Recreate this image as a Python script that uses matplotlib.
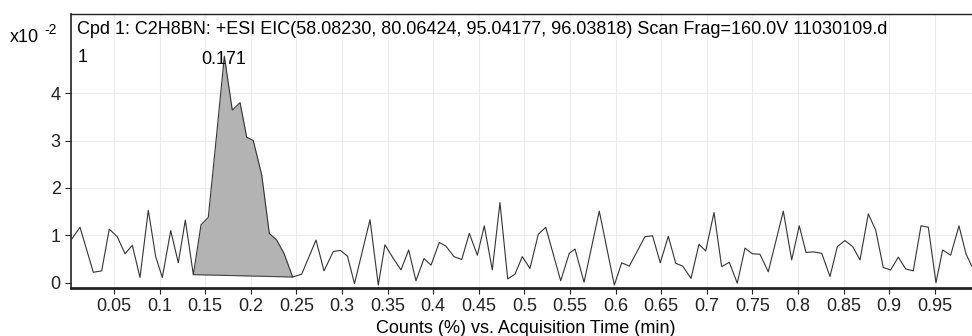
import numpy as np  # Import Library
import matplotlib
matplotlib.use("Agg")
import matplotlib.pyplot as plt  # Import Library

# EIC trace (time in min, counts in units of x10^-2 %)
times = [0.0036, 0.0127, 0.0273, 0.0365, 0.0448, 0.0536, 0.0621, 0.0701, 0.0785, 0.0876,
         0.0957, 0.1030, 0.1122, 0.1205, 0.1282, 0.1370, 0.1454, 0.1534, 0.1623, 0.1710,
         0.1797, 0.1882, 0.1955, 0.2027, 0.2120, 0.2203, 0.2284, 0.2364, 0.2459, 0.2558,
         0.2715, 0.2803, 0.2905, 0.2984, 0.3060, 0.3137, 0.3307, 0.3398, 0.3471, 0.3563,
         0.3647, 0.3731, 0.3811, 0.3899, 0.3976, 0.4067, 0.4140, 0.4228, 0.4313, 0.4396,
         0.4484, 0.4560, 0.4648, 0.4732, 0.4817, 0.4897, 0.4977, 0.5061, 0.5152, 0.5234,
         0.5398, 0.5492, 0.5555, 0.5654, 0.5821, 0.5986, 0.6067, 0.6150, 0.6322, 0.6405,
         0.6490, 0.6578, 0.6659, 0.6736, 0.6827, 0.6914, 0.6988, 0.7079, 0.7163, 0.7247,
         0.7334, 0.7419, 0.7499, 0.7583, 0.7674, 0.7839, 0.7931, 0.8014, 0.8088, 0.8168,
         0.8260, 0.8351, 0.8431, 0.8515, 0.8600, 0.8680, 0.8771, 0.8852, 0.8935, 0.9016,
         0.9100, 0.9181, 0.9264, 0.9349, 0.9429, 0.9513, 0.9586, 0.9674, 0.9765, 0.9842,
         0.9905]
counts = [0.92, 1.17, 0.22, 0.25, 1.13, 0.97, 0.61, 0.79, 0.11, 1.53,
          0.55, 0.11, 1.10, 0.42, 1.32, 0.17, 1.22, 1.38, 3.08, 4.78,
          3.64, 3.80, 3.07, 3.00, 2.27, 1.04, 0.90, 0.62, 0.12, 0.18,
          0.90, 0.25, 0.66, 0.68, 0.56, -0.02, 1.33, -0.05, 0.80, 0.51,
          0.27, 0.69, 0.04, 0.51, 0.37, 0.85, 0.77, 0.55, 0.49, 1.04,
          0.58, 1.20, 0.27, 1.69, 0.08, 0.18, 0.55, 0.30, 1.02, 1.17,
          0.04, 0.62, 0.71, 0.01, 1.51, -0.05, 0.42, 0.35, 0.97, 0.99,
          0.42, 0.98, 0.41, 0.35, 0.09, 0.81, 0.67, 1.48, 0.34, 0.43,
          -0.01, 0.73, 0.61, 0.60, 0.23, 1.51, 0.48, 1.20, 0.64, 0.65,
          0.62, 0.13, 0.76, 0.89, 0.76, 0.48, 1.45, 1.11, 0.32, 0.27,
          0.54, 0.29, 0.25, 1.20, 1.17, 0.00, 0.69, 0.58, 1.20, 0.61,
          0.35]

# integrated peak: start / end index of the shaded area
peak_start = 15
peak_end = 28
peak_time = 0.171

xticks = [0.05, 0.1, 0.15, 0.2, 0.25, 0.3, 0.35, 0.4, 0.45, 0.5,
          0.55, 0.6, 0.65, 0.7, 0.75, 0.8, 0.85, 0.9, 0.95]
xtick_labels = ['0.05', '0.1', '0.15', '0.2', '0.25', '0.3', '0.35', '0.4', '0.45', '0.5',
                '0.55', '0.6', '0.65', '0.7', '0.75', '0.8', '0.85', '0.9', '0.95']
yticks = [0, 1, 2, 3, 4]

title = "Cpd 1: C2H8BN: +ESI EIC(58.08230, 80.06424, 95.04177, 96.03818) Scan Frag=160.0V 11030109.d"
xlabel = "Counts (%) vs. Acquisition Time (min)"

plt.rcParams['font.family'] = ['Liberation Sans', 'DejaVu Sans']
fs = 13

t = np.array(times)
c = np.array(counts)

fig = plt.figure(figsize=(9.72, 3.36), dpi=100)
ax = fig.add_axes([70.5 / 972, 1 - 288 / 336, 901.5 / 972, 274 / 336])

# faint grid
for x in xticks:
    ax.axvline(x, color='#ededed', lw=0.8, zorder=0)
for y in yticks[1:]:
    ax.axhline(y, color='#ededed', lw=0.8, zorder=0)

# shaded peak, baseline drawn from start point to end point
ts = t[peak_start:peak_end + 1]
cs = c[peak_start:peak_end + 1]
base = np.interp(ts, [ts[0], ts[-1]], [cs[0], cs[-1]])
ax.fill_between(ts, base, cs, color='#b3b3b3', lw=0, zorder=1)
ax.plot([ts[0], ts[-1]], [cs[0], cs[-1]], color='#444444', lw=0.8, zorder=2)

ax.plot(t, c, color='#333333', lw=0.8, zorder=3)

ax.set_xlim(0.0023, 0.9908)
ax.set_ylim(-0.112, 5.67)
ax.set_xticks(xticks)
ax.set_xticklabels(xtick_labels, fontsize=fs)
ax.set_yticks(yticks)
ax.set_yticklabels([str(v) for v in yticks], fontsize=fs)
ax.tick_params(axis='both', direction='out', length=4, width=0.8, pad=3, colors='#222222')

ax.spines['right'].set_visible(False)
ax.spines['bottom'].set_linewidth(2.0)
ax.spines['left'].set_linewidth(1.2)
ax.spines['top'].set_linewidth(1.0)
for s in ['bottom', 'left', 'top']:
    ax.spines[s].set_color('#222222')

ax.set_xlabel(xlabel, fontsize=fs, labelpad=0)
ax.xaxis.set_label_coords(0.505, -0.115)

# texts inside the plot
ax.text(77 / 972, 1 - 30 / 336, title, transform=fig.transFigure, fontsize=fs, va='center', ha='left')
ax.text(78 / 972, 1 - 58 / 336, '1', transform=fig.transFigure, fontsize=fs, va='center', ha='left')
ax.text(224 / 972, 1 - 59 / 336, '0.171', transform=fig.transFigure, fontsize=fs,
        ha='center', va='center', zorder=4)
fig.text(10 / 972, 1 - 37 / 336, 'x10', fontsize=fs, va='center', ha='left')
fig.text(44 / 972, 1 - 30 / 336, '-2', fontsize=10, va='center', ha='left')

plt.savefig("out.png", dpi=100)
